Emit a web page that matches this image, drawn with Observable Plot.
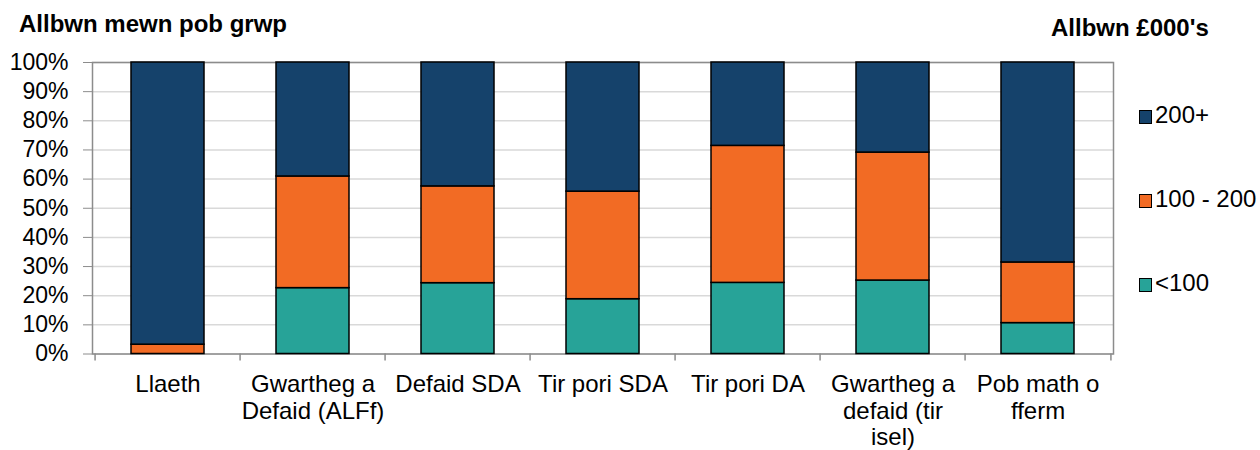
<!DOCTYPE html>
<html>
<head>
<meta charset="utf-8">
<script src="https://cdn.jsdelivr.net/npm/d3@7"></script>
<script src="https://cdn.jsdelivr.net/npm/@observablehq/plot@0.6"></script>
<style>
  body { margin: 0; background: #fff; }
  #wrap { position: relative; width: 1260px; height: 450px; font-family: "Liberation Sans", Arial, sans-serif; color: #000; overflow: hidden; }
  #wrap svg { position: absolute; left: 0; top: 0; }
  .abs { position: absolute; line-height: 1; white-space: nowrap; }
  .title { font-weight: bold; font-size: 24px; }
  .leg { font-size: 24px; }
  .sw { position: absolute; width: 11px; height: 12px; border: 1px solid #000; }
</style>
</head>
<body>
<div id="wrap"></div>
<script>
const categories = ["Llaeth", "Gwartheg a Defaid (ALFf)", "Defaid SDA", "Tir pori SDA", "Tir pori DA", "Gwartheg a defaid (tir isel)", "Pob math o fferm"];
const categoryLabels = ["Llaeth", "Gwartheg a\nDefaid (ALFf)", "Defaid SDA", "Tir pori SDA", "Tir pori DA", "Gwartheg a\ndefaid (tir\nisel)", "Pob math o\nfferm"];
const bands = ["<100", "100 - 200", "200+"];
const colors = ["#27a398", "#f26b24", "#15426b"];
const under100 = [0, 22.6, 24.3, 18.8, 24.4, 25.2, 10.6];
const from100to200 = [3.2, 38.3, 33.2, 36.9, 47.0, 43.9, 20.8];
const over200 = [96.8, 39.1, 42.5, 44.3, 28.6, 30.9, 68.6];
const yTicks = [0, 10, 20, 30, 40, 50, 60, 70, 80, 90, 100];
const titleText = "Allbwn mewn pob grwp";
const legendTitle = "Allbwn £000's";

const series = [under100, from100to200, over200];
const data = categories.flatMap((c, i) => bands.map((b, j) => ({cat: c, band: b, v: series[j][i]}))).filter(d => d.v > 0);
const labelOf = new Map(categories.map((c, i) => [c, categoryLabels[i]]));

const W = 1260, H = 450, mL = 92, mR = 147, mT = 62, mB = 96.5;
const step = (W - mL - mR) / categories.length;
const axisColor = "#8c8c8c";

const chart = Plot.plot({
  width: W, height: H,
  marginLeft: mL, marginRight: mR, marginTop: mT, marginBottom: mB,
  style: {fontFamily: "'Liberation Sans', Arial, sans-serif", fontSize: "24px", color: "#000", background: "transparent", overflow: "visible"},
  x: {type: "band", domain: categories, paddingInner: 0.5, paddingOuter: 0.25, label: null},
  y: {domain: [0, 100], label: null},
  color: {domain: bands, range: colors},
  marks: [
    Plot.gridY(yTicks, {stroke: "#d9d9d9", strokeOpacity: 1, strokeWidth: 1.5}),
    Plot.axisY(yTicks, {tickFormat: d => d + "%", tickSize: 9, tickPadding: 15, stroke: axisColor, fontSize: 23, label: null}),
    Plot.axisX({tickSize: 0, tickPadding: 19.5, tickFormat: d => labelOf.get(d), fontSize: 24, lineHeight: 1.1, label: null}),
    Plot.ruleX(categories, {x: d => d, y1: 0, y2: 0, insetBottom: -7, dx: -step / 2, stroke: axisColor, strokeWidth: 1.5}),
    Plot.ruleX(categories.slice(-1), {x: d => d, y1: 0, y2: 0, insetBottom: -7, dx: step / 2, stroke: axisColor, strokeWidth: 1.5}),
    Plot.frame({stroke: axisColor, strokeWidth: 1.5}),
    Plot.barY(data, {x: "cat", y: "v", fill: "band", stroke: "#000", strokeWidth: 1.5})
  ]
});

const wrap = document.getElementById("wrap");
wrap.appendChild(chart);

const t = document.createElement("div");
t.className = "abs title";
t.style.left = "19px"; t.style.top = "12px";
t.textContent = titleText;
wrap.appendChild(t);

const lt = document.createElement("div");
lt.className = "abs title";
lt.style.left = "1051px"; lt.style.top = "16px";
lt.textContent = legendTitle;
wrap.appendChild(lt);

const order = bands.map((b, i) => ({b, c: colors[i]})).reverse();
order.forEach((d, i) => {
  const top = 103 + i * 84;
  const sw = document.createElement("div");
  sw.className = "sw";
  sw.style.left = "1139px"; sw.style.top = (top + 7) + "px";
  sw.style.background = d.c;
  wrap.appendChild(sw);
  const tx = document.createElement("div");
  tx.className = "abs leg";
  tx.style.left = "1155px"; tx.style.top = top + "px";
  tx.textContent = d.b;
  wrap.appendChild(tx);
});
</script>
</body>
</html>
